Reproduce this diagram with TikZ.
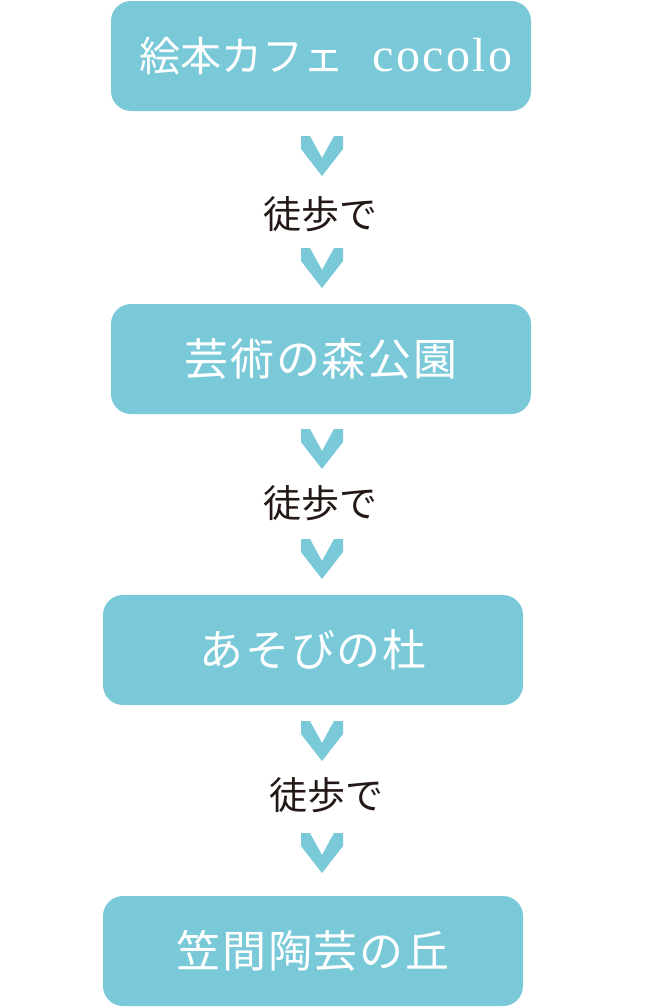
\documentclass[tikz,border=0pt]{standalone}
\usepackage{fontspec}
\newfontfamily\cjk{Noto Sans CJK JP}
\newfontfamily\cjkwide{Noto Sans CJK JP}[LetterSpace=4]
\newfontfamily\latin{Liberation Serif}[LetterSpace=5]
\definecolor{cafeblue}{RGB}{121,201,217}
\definecolor{inkblack}{RGB}{35,24,21}

\tikzset{
  spot/.style={fill=cafeblue, rounded corners=20pt, minimum width=420pt,
    minimum height=110pt, inner sep=0pt, text=white,
    font=\fontsize{44}{44}\selectfont\cjkwide},
  walk/.style={inner sep=0pt, text=inkblack, font=\fontsize{38}{38}\selectfont\cjk},
  chevron/.pic={\fill[cafeblue] (-21,-20) -- (-12,-20) -- (0,2) -- (12,-20)
    -- (21,-20) -- (21,-7) -- (0,20) -- (-21,-7) -- cycle;}
}

\begin{document}
\begin{tikzpicture}[x=1pt, y=-1pt]
         \useasboundingbox (0,0) rectangle (663,1007);
          \node[spot] (cafe) at (321,56) {\hspace*{10pt}{\fontsize{41}{41}\selectfont\cjk 絵本カフェ}\hspace{28pt}{\latin\fontsize{48}{48}\selectfont cocolo}};
          \node[spot] (park) at (321,359) {芸術の森公園};
          \node[spot] (asobi) at (313,650) {あそびの杜};
          \node[spot] (kasama) at (313,951) {笠間陶芸の丘};
          \node[walk] (walkA) at (320,214) {徒歩で};
          \node[walk] (walkB) at (320,503) {徒歩で};
          \node[walk] (walkC) at (326,795) {徒歩で};
          % chevrons between the stops
          \pic at (322,156) {chevron};
          \pic at (322,268) {chevron};
          \pic at (322,449) {chevron};
          \pic at (322,559) {chevron};
          \pic at (322,741) {chevron};
          \pic at (322,853) {chevron};
      \end{tikzpicture}
\end{document}
